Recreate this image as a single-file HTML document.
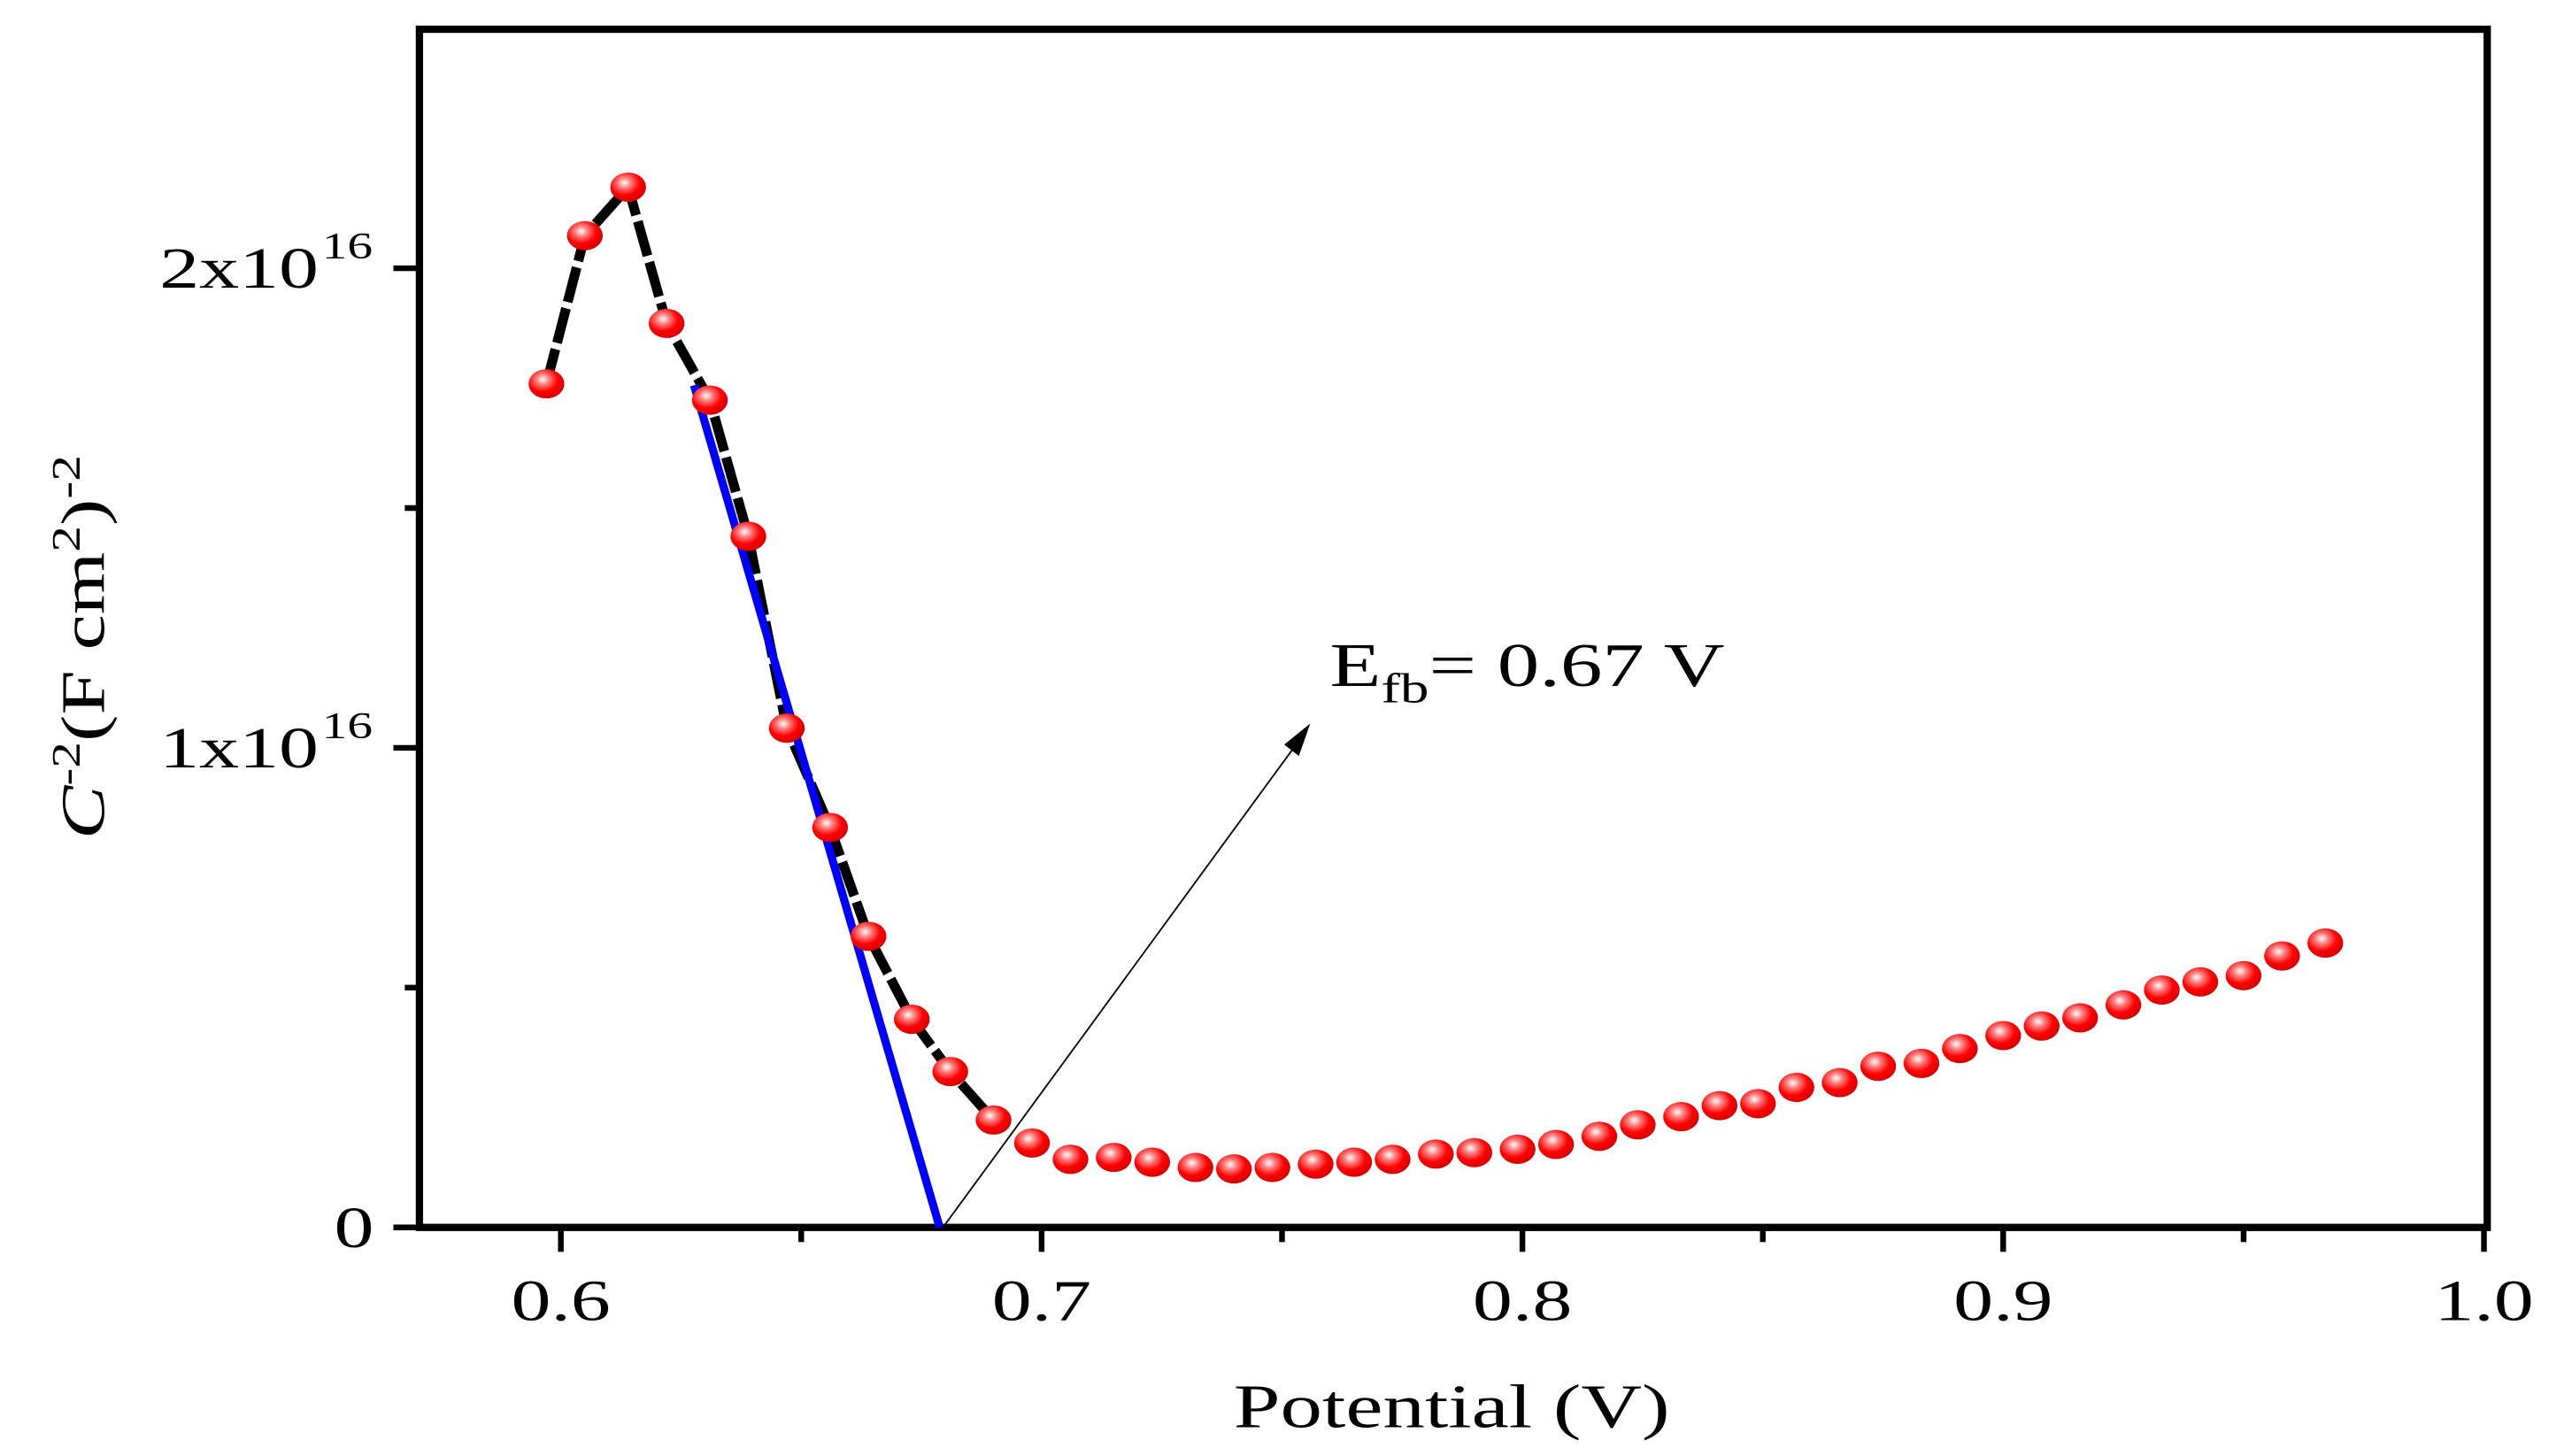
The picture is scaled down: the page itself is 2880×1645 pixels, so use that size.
<!DOCTYPE html>
<html><head><meta charset="utf-8"><style>html,body{margin:0;padding:0;background:#fff}svg{display:block}</style></head>
<body>
<svg id="chart" width="2880" height="1645" viewBox="0 0 1568 895.6" preserveAspectRatio="none" xmlns="http://www.w3.org/2000/svg" font-family="Liberation Serif, serif">
<defs><radialGradient id="ball" cx="0.4" cy="0.35" r="0.7"><stop offset="0" stop-color="#fff"/><stop offset="0.25" stop-color="#ff8080"/><stop offset="0.6" stop-color="#ff0000"/><stop offset="1" stop-color="#d00000"/></radialGradient></defs>
<g id="plot"></g>
</svg>
<script>
const potential=[0.597,0.605,0.614,0.622,0.631,0.639,0.647,0.656,0.664,0.673,0.681,0.690,0.698,0.706,0.715,0.723,0.732,0.740,0.748,0.757,0.765,0.773,0.782,0.790,0.799,0.807,0.816,0.824,0.833,0.841,0.849,0.857,0.866,0.874,0.883,0.891,0.900,0.908,0.916,0.925,0.933,0.941,0.950,0.958,0.967];
const cInv2=[1.759,2.068,2.169,1.885,1.725,1.441,1.041,0.834,0.607,0.434,0.325,0.224,0.176,0.142,0.146,0.136,0.125,0.122,0.125,0.132,0.136,0.142,0.153,0.156,0.163,0.173,0.190,0.214,0.231,0.254,0.258,0.292,0.302,0.336,0.342,0.373,0.400,0.420,0.437,0.464,0.495,0.512,0.525,0.566,0.593];
const lineCount=12;
const fitX=[0.6277,0.6788];
const fitY=[1.756,0];
const xTicks=[0.6,0.7,0.8,0.9,1.0];
const xTickLabels=["0.6","0.7","0.8","0.9","1.0"];
const yTicks=[0,1,2];
const yTickLabels=["0","1x10","2x10"];
const NS="http://www.w3.org/2000/svg";
const g=document.getElementById('plot');
const X=v=>345+(v-0.6)*2957.5;
const Y=v=>755-v*295;
const SX=1.36;
function mk(t,a,txt){const e=document.createElementNS(NS,t);for(const k in a)e.setAttribute(k,a[k]);if(txt!==undefined)e.textContent=txt;g.appendChild(e);return e;}
function tx(x,y,size,anchor,txt){return mk('text',{x:0,y:0,'font-size':size,'text-anchor':anchor,transform:'translate('+x+','+y+') scale('+SX+',1)'},txt);}
let e;
potential.forEach((v,i)=>{});
xTicks.forEach((v,i)=>{
 e=mk('line',{x1:X(v),x2:X(v),y1:755,y2:770,stroke:'#000','stroke-width':3.5});
 
 
 if(i<xTicks.length-1){e=mk('line',{x1:X(v+0.05),x2:X(v+0.05),y1:755,y2:764,stroke:'#000','stroke-width':3.5});
 
 }
 e=tx(X(v),812,36,'middle',xTickLabels[i]);
 
 
});
[0.5,1.5].forEach(v=>{e=mk('line',{x1:249,x2:258,y1:Y(v),y2:Y(v),stroke:'#000','stroke-width':3.5});
 
 });
yTicks.forEach((v,i)=>{
 e=mk('line',{x1:242,x2:258,y1:Y(v),y2:Y(v),stroke:'#000','stroke-width':3.5});
 
 
 const t=tx(v===0?230:196,Y(v)+12,36,'end',yTickLabels[i]);
 
 
 if(v!==0){const s=tx(198,Y(v)-6,23,'start','16');
 
 }
});
e=mk('rect',{x:258,y:18,width:1272,height:737,fill:'none',stroke:'#000','stroke-width':4.5});


let d='';for(let i=0;i<lineCount;i++)d+=(i?'L':'M')+X(potential[i])+','+Y(cInv2[i]);
e=mk('path',{d:d,fill:'none',stroke:'#000','stroke-width':6,'stroke-dasharray':'22 4'});


e=mk('line',{x1:X(fitX[0]),y1:Y(fitY[0]),x2:X(fitX[1]),y2:Y(fitY[1]),stroke:'#0000ff','stroke-width':5});


potential.forEach((v,i)=>{
 e=mk('ellipse',{cx:X(v),cy:Y(cInv2[i]),rx:11,ry:9,fill:'url(#ball)'});
 
 
});
e=mk('line',{x1:X(fitX[1])+2,y1:755,x2:798,y2:457,stroke:'#000','stroke-width':1});


e=mk('polygon',{points:'806,445 790,458 799,465',fill:'#000'});


const a=tx(818,422,38,'start');


a.innerHTML='E<tspan font-size="26" dy="10">fb</tspan><tspan dy="-10">= 0.67 V</tspan>';
e=tx(893,878,38,'middle','Potential (V)');


const yl=mk('text',{x:0,y:0,'font-size':38,'text-anchor':'middle',transform:'translate(64,398) rotate(-90) scale(1.3,1)'});


yl.innerHTML='<tspan font-style="italic">C</tspan><tspan font-size="25" dy="-15">-2</tspan><tspan dy="15">(F cm</tspan><tspan font-size="25" dy="-15">2</tspan><tspan dy="15">)</tspan><tspan font-size="25" dy="-15">-2</tspan>';
</script>
</body></html>
